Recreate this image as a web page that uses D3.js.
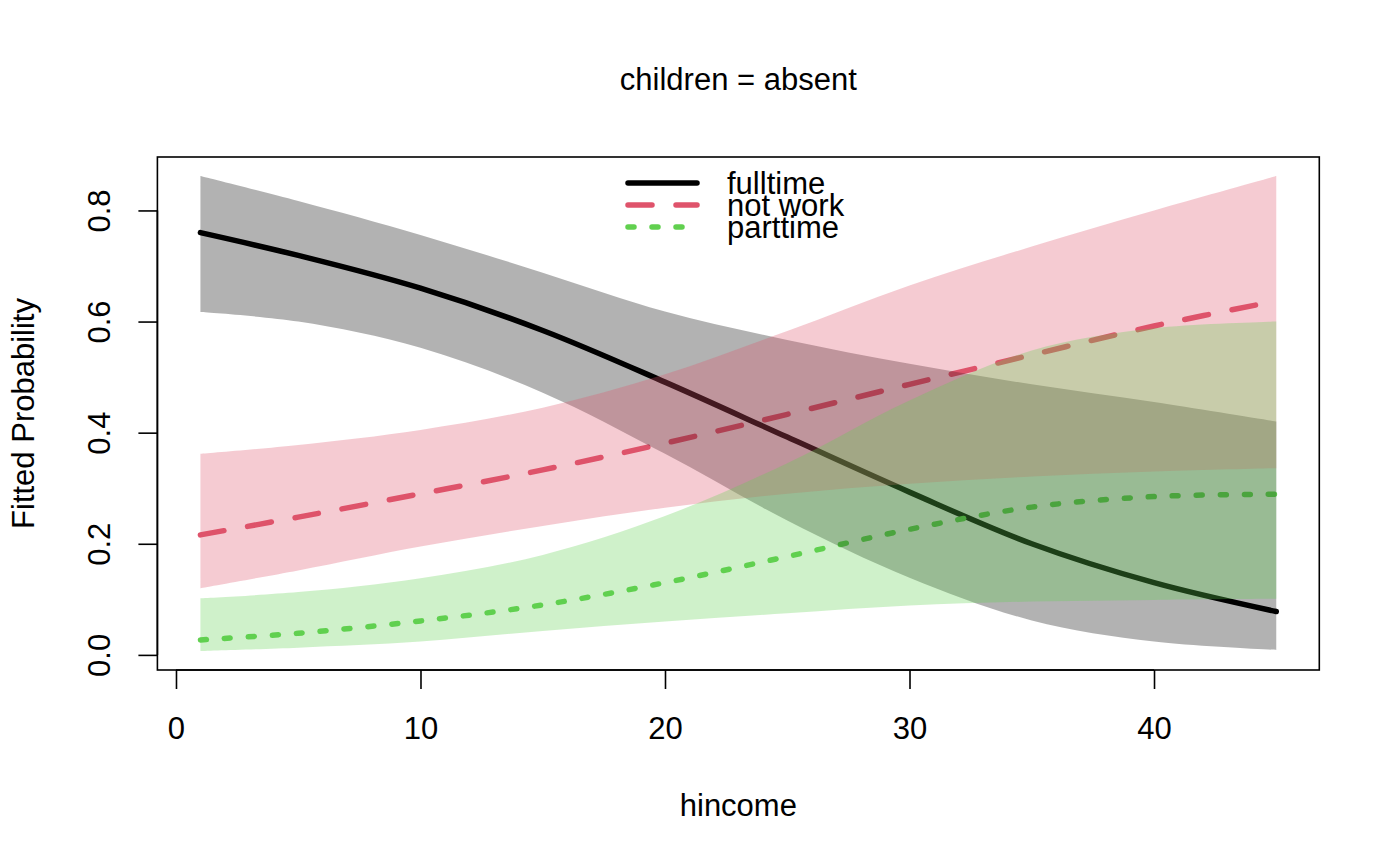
<!DOCTYPE html>
<html>
<head>
<meta charset="utf-8">
<script src="https://cdn.jsdelivr.net/npm/d3@7"></script>
<style>
  html, body { margin: 0; padding: 0; background: #ffffff; }
  svg { display: block; }
  text { font-family: "Liberation Sans", Arial, Helvetica, sans-serif; fill: #000; }
</style>
</head>
<body>
<svg id="chart" width="1400" height="866"></svg>
<script>
// ---- data ----
const hincome = [1, 5, 10, 15, 20, 25, 30, 35, 40, 45];

const fulltimeFit   = [0.760, 0.719, 0.660, 0.584, 0.491, 0.392, 0.293, 0.200, 0.130, 0.078];
const fulltimeLower = [0.617, 0.600, 0.553, 0.472, 0.362, 0.242, 0.139, 0.062, 0.024, 0.009];
const fulltimeUpper = [0.862, 0.817, 0.756, 0.688, 0.618, 0.567, 0.524, 0.487, 0.455, 0.420];

const notworkFit   = [0.216, 0.248, 0.290, 0.333, 0.381, 0.433, 0.487, 0.540, 0.592, 0.637];
const notworkLower = [0.120, 0.152, 0.195, 0.232, 0.265, 0.290, 0.308, 0.321, 0.330, 0.336];
const notworkUpper = [0.362, 0.378, 0.405, 0.445, 0.505, 0.583, 0.665, 0.735, 0.800, 0.862];

const parttimeFit   = [0.027, 0.039, 0.061, 0.090, 0.130, 0.177, 0.226, 0.266, 0.285, 0.289];
const parttimeLower = [0.007, 0.013, 0.024, 0.043, 0.060, 0.075, 0.089, 0.096, 0.099, 0.101];
const parttimeUpper = [0.102, 0.113, 0.138, 0.180, 0.250, 0.345, 0.458, 0.548, 0.588, 0.600];

const levels = ["fulltime", "not work", "parttime"];
const levelColors = ["#000000", "#DF536B", "#61D04F"];
const levelDash = [null, "24,24", "6,18"];

const xTicks = [0, 10, 20, 30, 40];
const yTicks = [0.0, 0.2, 0.4, 0.6, 0.8];
const titleText = "children = absent";
const xLabel = "hincome";
const yLabel = "Fitted Probability";

// ---- build series ----
const series = [
  { name: levels[0], fit: fulltimeFit, lo: fulltimeLower, hi: fulltimeUpper },
  { name: levels[1], fit: notworkFit,  lo: notworkLower,  hi: notworkUpper },
  { name: levels[2], fit: parttimeFit, lo: parttimeLower, hi: parttimeUpper }
].map((s, i) => ({
  ...s,
  color: levelColors[i],
  dash: levelDash[i],
  pts: hincome.map((x, j) => ({ x, fit: s.fit[j], lo: s.lo[j], hi: s.hi[j] }))
}));

// ---- layout ----
const svg = d3.select("#chart");
const box = { left: 157.4, right: 1319.3, top: 157, bottom: 670 };

const xMin = d3.min(hincome), xMax = d3.max(hincome);
const xPad = (xMax - xMin) * 0.04;
const yMinData = d3.min(series, s => d3.min(s.lo));
const yMaxData = d3.max(series, s => d3.max(s.hi));
const yPad = (yMaxData - yMinData) * 0.04;

const x = d3.scaleLinear().domain([xMin - xPad, xMax + xPad]).range([box.left, box.right]);
const y = d3.scaleLinear().domain([yMinData - yPad, yMaxData + yPad]).range([box.bottom, box.top]);

const FS = 31;
const LW = 5.5;

const curve = d3.curveCatmullRom.alpha(0.5);
const line = d3.line().x(d => x(d.x)).y(d => y(d.fit)).curve(curve);
const area = d3.area().x(d => x(d.x)).y0(d => y(d.lo)).y1(d => y(d.hi)).curve(curve);

const plotG = svg.append("g");
// lines first
series.forEach(s => {
  plotG.append("path")
    .datum(s.pts)
    .attr("d", line)
    .attr("fill", "none")
    .attr("stroke", s.color)
    .attr("stroke-width", LW)
    .attr("stroke-linecap", "round")
    .attr("stroke-linejoin", "round")
    .attr("stroke-dasharray", s.dash);
});
// then translucent bands on top
series.forEach(s => {
  plotG.append("path")
    .datum(s.pts)
    .attr("d", area)
    .attr("fill", s.color)
    .attr("fill-opacity", 0.3)
    .attr("stroke", "none");
});

// box
svg.append("rect")
  .attr("x", box.left).attr("y", box.top)
  .attr("width", box.right - box.left).attr("height", box.bottom - box.top)
  .attr("fill", "none").attr("stroke", "#000").attr("stroke-width", 1.6);

// x axis
const xAxisG = svg.append("g").attr("transform", `translate(0,${box.bottom})`)
  .call(d3.axisBottom(x).tickValues(xTicks).tickSize(19).tickPadding(28).tickFormat(d3.format("d")));
xAxisG.select(".domain")
  .attr("d", `M${x(xTicks[0])},0H${x(xTicks[xTicks.length - 1])}`)
  .attr("stroke-width", 1.6);
xAxisG.selectAll(".tick line").attr("stroke-width", 1.6);
xAxisG.selectAll(".tick text")
  .attr("font-size", FS)
  .attr("font-family", "Liberation Sans, Arial, sans-serif")
  .attr("dy", null)
  .attr("y", 69)
  .attr("fill", "#000");

// y axis
const yAxisG = svg.append("g").attr("transform", `translate(${box.left},0)`)
  .call(d3.axisLeft(y).tickValues(yTicks).tickSize(19).tickFormat(d3.format(".1f")));
yAxisG.select(".domain")
  .attr("d", `M0,${y(yTicks[0])}V${y(yTicks[yTicks.length - 1])}`)
  .attr("stroke-width", 1.6);
yAxisG.selectAll(".tick line").attr("stroke-width", 1.6);
yAxisG.selectAll(".tick text")
  .attr("font-size", FS)
  .attr("font-family", "Liberation Sans, Arial, sans-serif")
  .attr("x", null).attr("dy", null)
  .attr("text-anchor", "middle")
  .attr("transform", "translate(-47,0) rotate(-90)")
  .attr("fill", "#000");

// title & axis labels
svg.append("text")
  .attr("x", (box.left + box.right) / 2).attr("y", 90)
  .attr("text-anchor", "middle").attr("font-size", FS)
  .text(titleText);

svg.append("text")
  .attr("x", (box.left + box.right) / 2).attr("y", 816)
  .attr("text-anchor", "middle").attr("font-size", FS)
  .text(xLabel);

svg.append("text")
  .attr("transform", `translate(34,${(box.top + box.bottom) / 2}) rotate(-90)`)
  .attr("text-anchor", "middle").attr("font-size", FS)
  .text(yLabel);

// legend (tightly stacked rows, as in the reference)
const legG = svg.append("g");
const legX0 = 628, legX1 = 697, legTextX = 727;
const legY = [183, 205, 227];
series.forEach((s, i) => {
  legG.append("line")
    .attr("x1", legX0).attr("x2", legX1)
    .attr("y1", legY[i]).attr("y2", legY[i])
    .attr("stroke", s.color).attr("stroke-width", LW)
    .attr("stroke-linecap", "round")
    .attr("stroke-dasharray", s.dash);
  legG.append("text")
    .attr("x", legTextX).attr("y", legY[i] + 11)
    .attr("font-size", FS)
    .text(s.name);
});
</script>
</body>
</html>
